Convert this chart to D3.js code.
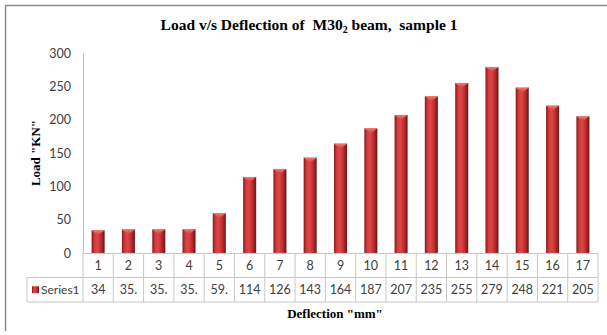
<!DOCTYPE html>
<html>
<head>
<meta charset="utf-8">
<script src="https://cdn.jsdelivr.net/npm/d3@7.9.0/dist/d3.min.js"></script>
<style>
  html, body { margin: 0; padding: 0; background: #fff; }
  svg { display: block; }
</style>
</head>
<body>
<svg id="chart" width="607" height="335"></svg>
<script>
// chart data
var categories = ['1', '2', '3', '4', '5', '6', '7', '8', '9', '10', '11', '12', '13', '14', '15', '16', '17']
var loads = [34, 35.4, 35.5, 35.6, 59.6, 114, 126, 143, 164, 187, 207, 235, 255, 279, 248, 221, 205]
var tableLabels = ['34', '35.', '35.', '35.', '59.', '114', '126', '143', '164', '187', '207', '235', '255', '279', '248', '221', '205']
var yTicks = [0, 50, 100, 150, 200, 250, 300]
var seriesName = 'Series1'

;(function () {
    var W = 607
    var plotL = 83, plotR = 598, plotT = 53, plotB = 253
    var rowH = 24.5

    var svg = d3.select('#chart')
    var defs = svg.append('defs')

    var grad = defs.append('linearGradient').attr('id', 'barGrad')
        .attr('x1', '0%').attr('x2', '100%').attr('y1', '0%').attr('y2', '0%')
    grad.append('stop').attr('offset', '0%').attr('stop-color', '#8a1416')
    grad.append('stop').attr('offset', '22%').attr('stop-color', '#d23c3c')
    grad.append('stop').attr('offset', '45%').attr('stop-color', '#dc4646')
    grad.append('stop').attr('offset', '75%').attr('stop-color', '#b82a2c')
    grad.append('stop').attr('offset', '100%').attr('stop-color', '#6e0f11')

    var capGrad = defs.append('linearGradient').attr('id', 'capGrad')
        .attr('x1', '0%').attr('x2', '0%').attr('y1', '0%').attr('y2', '100%')
    capGrad.append('stop').attr('offset', '0%').attr('stop-color', '#f07a78')
    capGrad.append('stop').attr('offset', '100%').attr('stop-color', '#cf3a3a')

    // outer frame (only top + left visible in the source)
    svg.append('line').attr('x1', 5).attr('x2', W).attr('y1', 5.5).attr('y2', 5.5)
        .attr('stroke', '#8c8c8c').attr('stroke-width', 1.5)
    svg.append('line').attr('x1', 5.5).attr('x2', 5.5).attr('y1', 5).attr('y2', 331)
        .attr('stroke', '#8c8c8c').attr('stroke-width', 1.5)

    var x = d3.scaleBand().domain(categories).range([plotL, plotR])
    var y = d3.scaleLinear().domain([0, 300]).range([plotB, plotT])

    // y axis
    var yAxis = svg.append('g').attr('transform', 'translate(' + plotL + ',0)')
        .call(d3.axisLeft(y).tickValues(yTicks).tickSize(0).tickPadding(12))
    yAxis.select('.domain').attr('stroke', '#bfbfbf')
    yAxis.selectAll('text').attr('font-family', 'Lato, "Open Sans", sans-serif')
        .attr('font-size', 12.5).attr('fill', '#404040')

    // bars
    var bw = x.bandwidth() * 0.43
    var bars = svg.append('g').selectAll('g').data(loads).join('g')
        .attr('transform', function (d, i) {
            return 'translate(' + (x(categories[i]) + (x.bandwidth() - bw) / 2) + ',0)'
        })
    bars.append('rect')
        .attr('x', 0).attr('width', bw)
        .attr('y', function (d) { return y(d) })
        .attr('height', function (d) { return plotB - y(d) })
        .attr('fill', 'url(#barGrad)')
        .attr('stroke', '#9a9a9a').attr('stroke-opacity', 0.35).attr('stroke-width', 0.6)
    bars.append('path')
        .attr('d', function (d) {
            var t = y(d)
            return 'M0,' + t + 'L' + bw + ',' + t + 'L' + (bw / 2) + ',' + (t + 5) + 'Z'
        })
        .attr('fill', 'url(#capGrad)')

    // data table
    var tbl = svg.append('g')
    var lineCol = '#c8c8c8'
    var tableLeft = 27
    tbl.append('line').attr('x1', plotL).attr('x2', plotR).attr('y1', plotB + 0.5).attr('y2', plotB + 0.5).attr('stroke', lineCol)
    tbl.append('line').attr('x1', tableLeft).attr('x2', plotR).attr('y1', plotB + rowH).attr('y2', plotB + rowH).attr('stroke', lineCol)
    tbl.append('line').attr('x1', tableLeft).attr('x2', plotR).attr('y1', plotB + 2 * rowH).attr('y2', plotB + 2 * rowH).attr('stroke', lineCol)
    tbl.append('line').attr('x1', tableLeft).attr('x2', tableLeft).attr('y1', plotB + rowH).attr('y2', plotB + 2 * rowH).attr('stroke', lineCol)
    var edges = categories.map(function (c) { return x(c) }).concat([plotR])
    tbl.selectAll('line.v').data(edges).join('line').attr('class', 'v')
        .attr('x1', function (d) { return d }).attr('x2', function (d) { return d })
        .attr('y1', plotB).attr('y2', plotB + 2 * rowH)
        .attr('stroke', lineCol)

    var cellFont = 'Lato, "Open Sans", sans-serif'
    tbl.selectAll('text.cat').data(categories).join('text').attr('class', 'cat')
        .attr('x', function (d) { return x(d) + x.bandwidth() / 2 })
        .attr('y', plotB + rowH / 2 + 4.5)
        .attr('text-anchor', 'middle').attr('font-family', cellFont).attr('font-size', 12.5).attr('fill', '#404040')
        .text(function (d) { return d })
    tbl.selectAll('text.val').data(tableLabels).join('text').attr('class', 'val')
        .attr('x', function (d, i) { return x(categories[i]) + x.bandwidth() / 2 })
        .attr('y', plotB + rowH * 1.5 + 4.5)
        .attr('text-anchor', 'middle').attr('font-family', cellFont).attr('font-size', 12.5).attr('fill', '#404040')
        .text(function (d) { return d })
    tbl.append('rect').attr('x', 32).attr('y', plotB + rowH * 1.5 - 3.5).attr('width', 7).attr('height', 7)
        .attr('fill', 'url(#barGrad)')
    tbl.append('text').attr('x', 41).attr('y', plotB + rowH * 1.5 + 4.5)
        .attr('font-family', cellFont).attr('font-size', 12).attr('fill', '#404040')
        .text(seriesName)

    // titles
    var serif = '"Liberation Serif", "Times New Roman", serif'
    var title = svg.append('text').attr('x', 309).attr('y', 30).attr('text-anchor', 'middle')
        .style('white-space', 'pre')
        .attr('font-family', serif).attr('font-size', 15.5).attr('font-weight', 'bold').attr('fill', '#000')
    title.append('tspan').text('Load v/s Deflection of  M30')
    title.append('tspan').attr('font-size', 10).attr('dy', 3).text('2')
    title.append('tspan').attr('dy', -3).text(' beam,  sample 1')

    svg.append('text').attr('transform', 'translate(40,153) rotate(-90)')
        .attr('text-anchor', 'middle').attr('font-family', serif).attr('font-size', 13)
        .attr('font-weight', 'bold').text('Load "KN"')

    svg.append('text').attr('x', 335).attr('y', 318).attr('text-anchor', 'middle')
        .attr('font-family', serif).attr('font-size', 13).attr('font-weight', 'bold')
        .text('Deflection "mm"')
})()
</script>
</body>
</html>
